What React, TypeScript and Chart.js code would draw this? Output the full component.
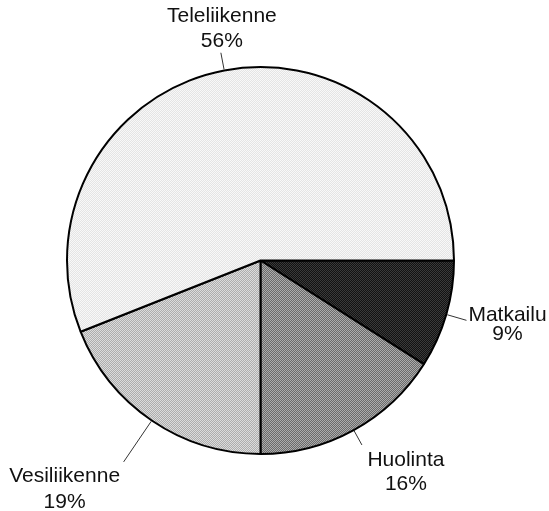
import React, { useEffect, useRef } from "react";
import { Chart, registerables } from "chart.js";

Chart.register(...registerables);

const categories = ["Matkailu", "Huolinta", "Vesiliikenne", "Teleliikenne"];
const shares = [9, 16, 19, 56];

// style: checker pattern colour pairs
const patternColors: [string, string][] = [
  ["#121212", "#3a3a3a"],
  ["#6a6a6a", "#acacac"],
  ["#adadad", "#dcdcdc"],
  ["#e4e4e4", "#f8f8f8"],
];
// style: leader length and label offsets (relative to leader end)
const leaderLen = [21, 17, 50, 18];
const labelDx = [41, 44, -59, 1];
const line1Dy = [1, 21, 20, -31];
const line2Dy = [19.5, 45, 46, -6];

function makePattern(a: string, b: string): CanvasPattern | string {
  const c = document.createElement("canvas");
  c.width = 2;
  c.height = 2;
  const ctx = c.getContext("2d");
  if (!ctx) return a;
  ctx.fillStyle = a;
  ctx.fillRect(0, 0, 2, 2);
  ctx.fillStyle = b;
  ctx.fillRect(0, 0, 1, 1);
  ctx.fillRect(1, 1, 1, 1);
  const p = ctx.createPattern(c, "repeat");
  return p || a;
}

const labelPlugin = {
  id: "outerLabels",
  afterDatasetsDraw(chart: any) {
    const ctx = chart.ctx as CanvasRenderingContext2D;
    const meta = chart.getDatasetMeta(0);
    const data = chart.data.datasets[0].data as number[];
    const total = data.reduce((s, v) => s + v, 0);
    ctx.save();
    meta.data.forEach((arc: any, i: number) => {
      const { x, y, startAngle, endAngle, outerRadius } = arc.getProps(
        ["x", "y", "startAngle", "endAngle", "outerRadius"],
        true
      );
      const mid = (startAngle + endAngle) / 2;
      const cos = Math.cos(mid);
      const sin = Math.sin(mid);
      const sx = x + cos * (outerRadius + 1);
      const sy = y + sin * (outerRadius + 1);
      const ex = x + cos * (outerRadius + leaderLen[i]);
      const ey = y + sin * (outerRadius + leaderLen[i]);
      ctx.strokeStyle = "#333";
      ctx.lineWidth = 1;
      ctx.beginPath();
      ctx.moveTo(sx, sy);
      ctx.lineTo(ex, ey);
      ctx.stroke();
      ctx.fillStyle = "#111";
      ctx.font = '21px "Liberation Sans", Arial, sans-serif';
      ctx.textAlign = "center";
      ctx.textBaseline = "alphabetic";
      ctx.fillText(chart.data.labels[i], ex + labelDx[i], ey + line1Dy[i]);
      ctx.fillText(
        Math.round((data[i] / total) * 100) + "%",
        ex + labelDx[i],
        ey + line2Dy[i]
      );
    });
    ctx.restore();
  },
};

export default function App() {
  const ref = useRef<HTMLCanvasElement | null>(null);
  useEffect(() => {
    if (!ref.current) return;
    const chart = new Chart(ref.current, {
      type: "pie",
      data: {
        labels: categories,
        datasets: [
          {
            data: shares,
            backgroundColor: patternColors.map(([a, b]) => makePattern(a, b)) as any,
            borderColor: "#000",
            borderWidth: 2,
          },
        ],
      },
      options: {
        responsive: false,
        animation: false,
        rotation: 90,
        layout: { padding: { left: 66, right: 94, top: 66, bottom: 56 } },
        plugins: {
          legend: { display: false },
          tooltip: { enabled: false },
        },
      },
      plugins: [labelPlugin],
    });
    return () => chart.destroy();
  }, []);
  return (
    <div
      style={{
        position: "fixed",
        left: 0,
        top: 0,
        width: 549,
        height: 511,
        background: "#fff",
      }}
    >
      <canvas ref={ref} width={549} height={511} />
    </div>
  );
}
